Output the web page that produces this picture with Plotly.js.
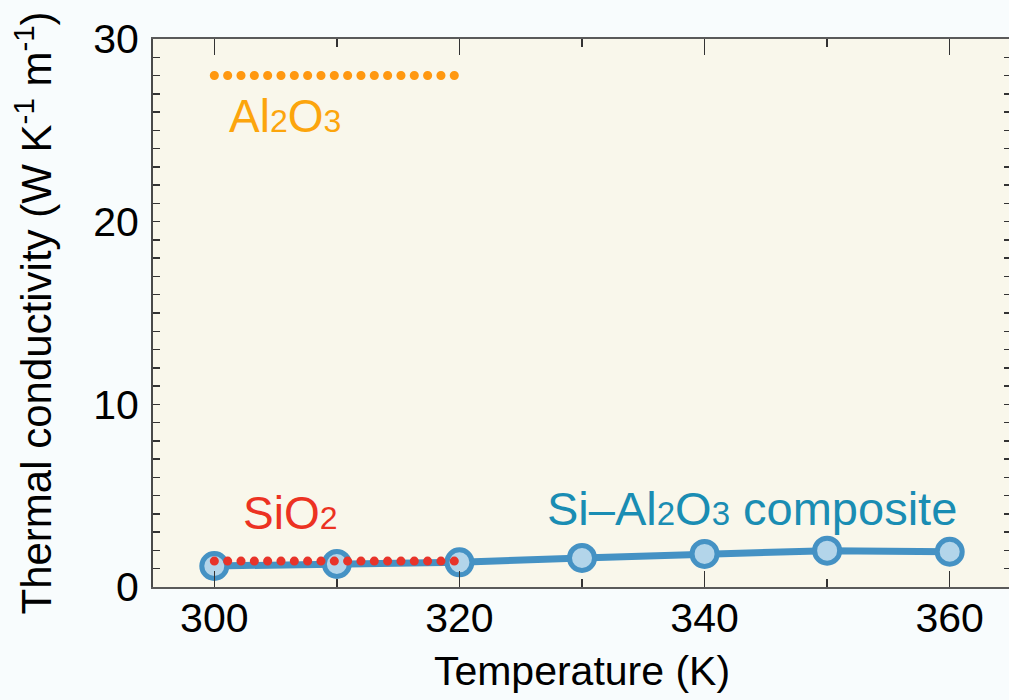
<!DOCTYPE html>
<html>
<head>
<meta charset="utf-8">
<script src="https://cdn.plot.ly/plotly-3.0.1.min.js"></script>
<style>
html,body{margin:0;padding:0;overflow:hidden;background:#f8fcfd;}
#chart{width:1011px;height:700px;}
.js-line{stroke-linecap:round !important;}
</style>
</head>
<body>
<div id="chart"></div>
<script>
// Data
const temperature = [300, 310, 320, 330, 340, 350, 360];
const compositeK = [1.15, 1.26, 1.35, 1.59, 1.81, 1.99, 1.93];
const refRangeT = [300, 320];
const sio2K = [1.42, 1.42];
const al2o3K = [28.0, 28.0];
const xTickVals = [300, 320, 340, 360];
const yTickVals = [0, 10, 20, 30];

const font = 'Liberation Sans, Arial, Helvetica, sans-serif';
const sub = (s, px) => '<span style="font-size:' + px + 'px">' + s + '</span>';

const traces = [
  {
    x: temperature, y: compositeK, type: 'scatter', mode: 'lines+markers',
    line: {color: '#4592c4', width: 7},
    marker: {size: 25, color: '#b3d5ea', line: {color: '#4592c4', width: 5}},
    showlegend: false, hoverinfo: 'skip'
  },
  {
    x: refRangeT, y: sio2K, type: 'scatter', mode: 'lines',
    line: {color: '#e8342a', width: 9, dash: '0.1px,13.23px'},
    showlegend: false, hoverinfo: 'skip'
  },
  {
    x: refRangeT, y: al2o3K, type: 'scatter', mode: 'lines',
    line: {color: '#ff9810', width: 9, dash: '0.1px,13.23px'},
    showlegend: false, hoverinfo: 'skip'
  }
];

const layout = {
  width: 1011, height: 700,
  margin: {l: 153, r: 0, t: 39, b: 113},
  paper_bgcolor: '#f8fcfd',
  plot_bgcolor: '#f9f7eb',
  font: {family: font, color: '#000', size: 41},
  showlegend: false,
  xaxis: {
    range: [295, 365], tickvals: xTickVals, ticktext: xTickVals.map(String),
    ticks: 'inside', ticklen: 16, tickwidth: 1.5, tickcolor: '#333',
    minor: {dtick: 10, tick0: 300, ticks: 'inside', ticklen: 8, tickwidth: 1.5, tickcolor: '#333'},
    showline: true, linecolor: '#5a5a5a', linewidth: 2, mirror: 'allticks',
    showgrid: false, zeroline: false, layer: 'above traces',
    tickfont: {size: 41, family: font},
    ticklabelstandoff: -6,
    title: {text: 'Temperature (K)', font: {size: 41, family: font}, standoff: 16}
  },
  yaxis: {
    range: [0, 30], tickvals: yTickVals, ticktext: yTickVals.map(String),
    ticks: 'inside', ticklen: 7, tickwidth: 1.5, tickcolor: '#333',
    minor: {dtick: 1, tick0: 0, ticks: 'inside', ticklen: 7, tickwidth: 1.5, tickcolor: '#333'},
    showline: true, linecolor: '#4a4a4a', linewidth: 2, mirror: 'allticks',
    showgrid: false, zeroline: false,
    tickfont: {size: 41, family: font},
    ticklabelstandoff: 4,
    title: {text: 'Thermal conductivity (W K<sup>-1</sup> m<sup>-1</sup>)', font: {size: 42, family: font}, standoff: 28}
  },
  annotations: [
    {x: 301.0, y: 25.8, xref: 'x', yref: 'y', xanchor: 'left', yanchor: 'middle',
     text: 'Al' + sub('2', 32) + 'O' + sub('3', 32), showarrow: false, font: {size: 46, color: '#fca50c', family: font}},
    {x: 302.2, y: 4.05, xref: 'x', yref: 'y', xanchor: 'left', yanchor: 'middle',
     text: 'SiO' + sub('2', 32), showarrow: false, font: {size: 46, color: '#ec3222', family: font}},
    {x: 327.0, y: 4.32, xref: 'x', yref: 'y', xanchor: 'left', yanchor: 'middle',
     text: 'Si–Al' + sub('2', 33) + 'O' + sub('3', 33) + ' composite', showarrow: false, font: {size: 47, color: '#1a8db3', family: font}}
  ]
};

Plotly.newPlot('chart', traces, layout, {displayModeBar: false, staticPlot: true});
</script>
</body>
</html>
